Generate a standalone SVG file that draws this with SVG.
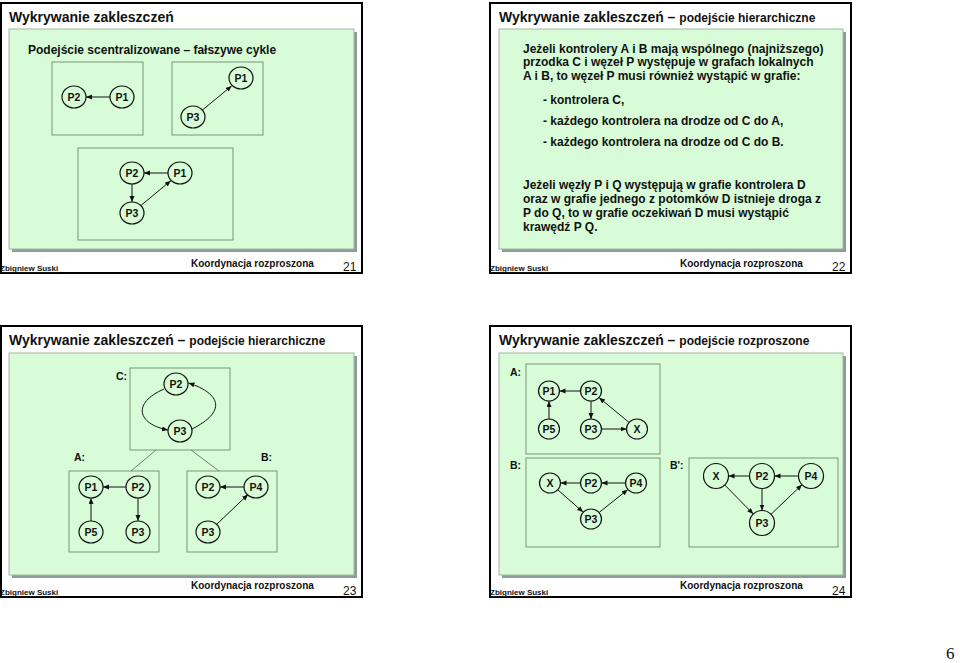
<svg xmlns="http://www.w3.org/2000/svg" width="960" height="663" viewBox="0 0 960 663">
<defs>
<style>
.frame{fill:#fff;stroke:#000;stroke-width:2}
.shadow{fill:#8c9c9c}
.panel{fill:#d7fcd7;stroke:#a3b5a3;stroke-width:1}
.box{fill:none;stroke:#7f927f;stroke-width:1}
.n ellipse{fill:#d7fcd7;stroke:#111;stroke-width:1.2}
.n text,.lbl{font-family:"Liberation Sans",Arial,sans-serif;font-weight:bold;fill:#111}
.n text{font-size:10.5px;text-anchor:middle}
.lbl{font-size:10.5px}
.title{font-family:"Liberation Sans",Arial,sans-serif;font-weight:bold;font-size:14px;fill:#111}
.sub{font-size:12px}
.body{font-family:"Liberation Sans",Arial,sans-serif;font-weight:bold;font-size:12px;fill:#111}
.auth{font-family:"Liberation Sans",Arial,sans-serif;font-weight:bold;font-size:8px;fill:#111;text-decoration:underline}
.koord{font-family:"Liberation Sans",Arial,sans-serif;font-weight:bold;font-size:10px;fill:#111}
.num{font-family:"Liberation Sans",Arial,sans-serif;font-size:12px;fill:#111}
.e{fill:none;stroke:#111;stroke-width:1;marker-end:url(#ah)}
.t{fill:none;stroke:#6f836f;stroke-width:1}
</style>
<marker id="ah" markerUnits="userSpaceOnUse" markerWidth="7" markerHeight="6" refX="6" refY="2.5" orient="auto">
<path d="M0,0 L6,2.5 L0,5 z" fill="#111"/>
</marker>
</defs>
<rect width="960" height="663" fill="#fff"/>

<!-- Slide 21 -->
<g id="slide21">
<rect class="frame" x="1" y="3" width="361" height="270"/>
<text class="title" x="9" y="22">Wykrywanie zakleszczeń</text>
<rect class="shadow" x="12" y="32" width="345" height="220"/>
<rect class="panel" x="9" y="29" width="345" height="220"/>
<text class="body" x="28" y="54">Podejście scentralizowane – fałszywe cykle</text>
<rect class="box" x="52" y="62" width="91" height="73"/>
<rect class="box" x="172" y="62" width="91" height="73"/>
<rect class="box" x="78" y="148" width="155" height="92"/>
<text class="auth" x="0" y="271">Zbigniew Suski</text>
<text class="koord" x="191" y="267">Koordynacja rozproszona</text>
<text class="num" x="343" y="271">21</text>
</g>
<g id="s21-nodes">
<g id="s21a-P2" class="n"><ellipse cx="74" cy="97" rx="12" ry="11"/><text x="74" y="101">P2</text></g>
<g id="s21a-P1" class="n"><ellipse cx="122" cy="97" rx="12" ry="11"/><text x="122" y="101">P1</text></g>
<g id="s21b-P1" class="n"><ellipse cx="241" cy="78" rx="12" ry="11"/><text x="241" y="82">P1</text></g>
<g id="s21b-P3" class="n"><ellipse cx="193" cy="117" rx="12" ry="11"/><text x="193" y="121">P3</text></g>
<g id="s21c-P2" class="n"><ellipse cx="132" cy="173" rx="12" ry="11"/><text x="132" y="177">P2</text></g>
<g id="s21c-P1" class="n"><ellipse cx="180" cy="173" rx="12" ry="11"/><text x="180" y="177">P1</text></g>
<g id="s21c-P3" class="n"><ellipse cx="132" cy="213" rx="12" ry="11"/><text x="132" y="217">P3</text></g>
</g>
<g id="s21-edges">
<path class="e" d="M110,97 L86,97"/>
<path class="e" d="M202.3,110.1 L231.7,85.9"/>
<path class="e" d="M168,173 L144,173"/>
<path class="e" d="M132,184 L132,202"/>
<path class="e" d="M141.2,205.3 L170.8,180.7"/>
</g>

<!-- Slide 22 -->
<g id="slide22">
<rect class="frame" x="490" y="3" width="361" height="270"/>
<text class="title" x="499" y="22">Wykrywanie zakleszczeń – <tspan class="sub">podejście hierarchiczne</tspan></text>
<rect class="shadow" x="502" y="32" width="344" height="220"/>
<rect class="panel" x="499" y="29" width="344" height="220"/>
<text class="body" x="523" y="53">Jeżeli kontrolery A i B mają wspólnego (najniższego)</text>
<text class="body" x="523" y="66.3">przodka C i węzeł P występuje w grafach lokalnych</text>
<text class="body" x="523" y="79.6">A i B, to węzeł P musi również wystąpić w grafie:</text>
<text class="body" x="543" y="104">- kontrolera C,</text>
<text class="body" x="543" y="125">- każdego kontrolera na drodze od C do A,</text>
<text class="body" x="543" y="146">- każdego kontrolera na drodze od C do B.</text>
<text class="body" x="523" y="188.5">Jeżeli węzły P i Q występują w grafie kontrolera D</text>
<text class="body" x="523" y="202.5">oraz w grafie jednego z potomków D istnieje droga z</text>
<text class="body" x="523" y="216.5">P do Q, to w grafie oczekiwań D musi wystąpić</text>
<text class="body" x="523" y="230.5">krawędź P Q.</text>
<text class="auth" x="490" y="271">Zbigniew Suski</text>
<text class="koord" x="680" y="267">Koordynacja rozproszona</text>
<text class="num" x="832" y="271">22</text>
</g>

<!-- Slide 23 -->
<g id="slide23">
<rect class="frame" x="1" y="326" width="361" height="271"/>
<text class="title" x="9" y="345">Wykrywanie zakleszczeń – <tspan class="sub">podejście hierarchiczne</tspan></text>
<rect class="shadow" x="12" y="356" width="345" height="222"/>
<rect class="panel" x="9" y="353" width="345" height="222"/>
<rect class="box" x="130" y="368" width="100" height="82"/>
<rect class="box" x="69" y="471" width="90" height="81"/>
<rect class="box" x="187" y="471" width="90" height="81"/>
<text class="lbl" x="116" y="380">C:</text>
<text class="lbl" x="74" y="461">A:</text>
<text class="lbl" x="261" y="461">B:</text>
<text class="auth" x="0" y="595">Zbigniew Suski</text>
<text class="koord" x="191" y="589">Koordynacja rozproszona</text>
<text class="num" x="343" y="595">23</text>
</g>
<g id="s23-tree">
<path class="t" d="M156,450 L131,471"/>
<path class="t" d="M191,450 L219,471"/>
</g>
<g id="s23-nodes">
<g id="s23c-P2" class="n"><ellipse cx="176" cy="384" rx="12" ry="11"/><text x="176" y="388">P2</text></g>
<g id="s23c-P3" class="n"><ellipse cx="180" cy="431" rx="12" ry="11"/><text x="180" y="435">P3</text></g>
<g id="s23a-P1" class="n"><ellipse cx="91" cy="487" rx="12" ry="11"/><text x="91" y="491">P1</text></g>
<g id="s23a-P2" class="n"><ellipse cx="138" cy="487" rx="12" ry="11"/><text x="138" y="491">P2</text></g>
<g id="s23a-P5" class="n"><ellipse cx="91" cy="532" rx="12" ry="11"/><text x="91" y="536">P5</text></g>
<g id="s23a-P3" class="n"><ellipse cx="138" cy="532" rx="12" ry="11"/><text x="138" y="536">P3</text></g>
<g id="s23b-P2" class="n"><ellipse cx="208" cy="487" rx="12" ry="11"/><text x="208" y="491">P2</text></g>
<g id="s23b-P4" class="n"><ellipse cx="256" cy="487" rx="12" ry="11"/><text x="256" y="491">P4</text></g>
<g id="s23b-P3" class="n"><ellipse cx="208" cy="532" rx="12" ry="11"/><text x="208" y="536">P3</text></g>
</g>
<g id="s23-edges">
<path class="e" d="M164,389 C132,403 137,424 168,430"/>
<path class="e" d="M192,429 C226,412 222,394 188.5,383"/>
<path class="e" d="M126,487 L103,487"/>
<path class="e" d="M138,498 L138,521"/>
<path class="e" d="M91,521 L91,498"/>
<path class="e" d="M244,487 L220,487"/>
<path class="e" d="M216.5,524.5 L248,494.5"/>
</g>

<!-- Slide 24 -->
<g id="slide24">
<rect class="frame" x="490" y="326" width="361" height="271"/>
<text class="title" x="499" y="345">Wykrywanie zakleszczeń – <tspan class="sub">podejście rozproszone</tspan></text>
<rect class="shadow" x="502" y="356" width="344" height="222"/>
<rect class="panel" x="499" y="353" width="344" height="222"/>
<rect class="box" x="526" y="364" width="134" height="90"/>
<rect class="box" x="526" y="458" width="134" height="89"/>
<rect class="box" x="689" y="458" width="149" height="89"/>
<text class="lbl" x="510" y="376">A:</text>
<text class="lbl" x="510" y="469">B:</text>
<text class="lbl" x="670" y="469">B':</text>
<text class="auth" x="490" y="595">Zbigniew Suski</text>
<text class="koord" x="680" y="589">Koordynacja rozproszona</text>
<text class="num" x="832" y="595">24</text>
</g>
<g id="s24-nodes">
<g id="s24a-P1" class="n"><ellipse cx="549" cy="391" rx="10.5" ry="10"/><text x="549" y="395">P1</text></g>
<g id="s24a-P2" class="n"><ellipse cx="591" cy="391" rx="10.5" ry="10"/><text x="591" y="395">P2</text></g>
<g id="s24a-P5" class="n"><ellipse cx="549" cy="429" rx="10.5" ry="10"/><text x="549" y="433">P5</text></g>
<g id="s24a-P3" class="n"><ellipse cx="591" cy="429" rx="10.5" ry="10"/><text x="591" y="433">P3</text></g>
<g id="s24a-X" class="n"><ellipse cx="637" cy="429" rx="10.5" ry="10"/><text x="637" y="433">X</text></g>
<g id="s24b-X" class="n"><ellipse cx="550" cy="483" rx="10.5" ry="10"/><text x="550" y="487">X</text></g>
<g id="s24b-P2" class="n"><ellipse cx="591" cy="483" rx="10.5" ry="10"/><text x="591" y="487">P2</text></g>
<g id="s24b-P4" class="n"><ellipse cx="636" cy="483" rx="10.5" ry="10"/><text x="636" y="487">P4</text></g>
<g id="s24b-P3" class="n"><ellipse cx="591" cy="519" rx="10.5" ry="10"/><text x="591" y="523">P3</text></g>
<g id="s24c-X" class="n"><ellipse cx="716" cy="476" rx="12.5" ry="12.5"/><text x="716" y="480">X</text></g>
<g id="s24c-P2" class="n"><ellipse cx="762" cy="476" rx="12.5" ry="12.5"/><text x="762" y="480">P2</text></g>
<g id="s24c-P4" class="n"><ellipse cx="811" cy="476" rx="12.5" ry="12.5"/><text x="811" y="480">P4</text></g>
<g id="s24c-P3" class="n"><ellipse cx="762" cy="523" rx="12.5" ry="12.5"/><text x="762" y="527">P3</text></g>
</g>
<g id="s24-edges">
<path class="e" d="M580.5,391 L559.5,391"/>
<path class="e" d="M591,401 L591,419"/>
<path class="e" d="M549,419 L549,401"/>
<path class="e" d="M601.5,429 L626.5,429"/>
<path class="e" d="M628.9,422.3 L599.1,397.7"/>
<path class="e" d="M580.5,483 L560.5,483"/>
<path class="e" d="M625.5,483 L601.5,483"/>
<path class="e" d="M557.9,489.9 L583.1,512.1"/>
<path class="e" d="M599.2,512.4 L627.8,489.6"/>
<path class="e" d="M749.5,476 L728.5,476"/>
<path class="e" d="M798.5,476 L774.5,476"/>
<path class="e" d="M762,488.5 L762,510.5"/>
<path class="e" d="M724.7,484.9 L753.3,514.1"/>
<path class="e" d="M771,514.3 L802,484.7"/>
</g>

<text x="946" y="659" font-family="'Liberation Serif','Times New Roman',serif" font-size="17" fill="#111">6</text>
</svg>
